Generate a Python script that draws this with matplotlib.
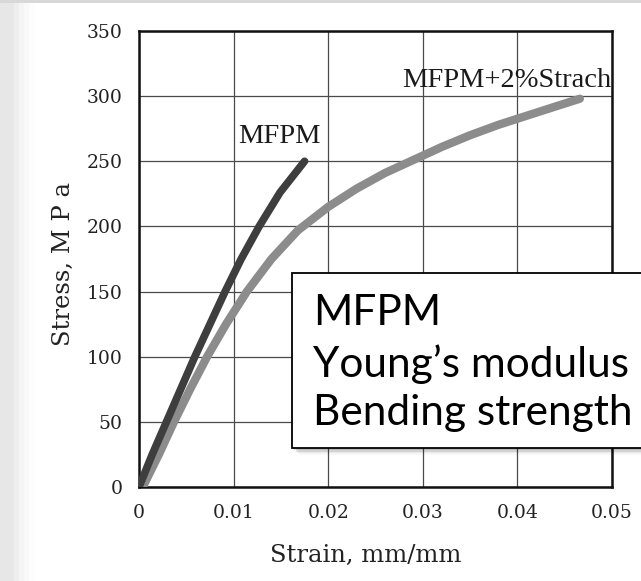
import matplotlib.pyplot as plt
from matplotlib.patches import Rectangle

# values
mfpm_strain = [0, 0.0014, 0.0029, 0.0044, 0.0059, 0.0075, 0.0091, 0.0108, 0.0127, 0.0149, 0.0175]
mfpm_stress = [0, 25, 50, 75, 100, 125, 150, 175, 200, 226, 250]

strach_strain = [0.0004, 0.0021, 0.0037, 0.0054, 0.0072, 0.0092, 0.0114, 0.0140, 0.0168, 0.0200,
                 0.0230, 0.0260, 0.0290, 0.0320, 0.0350, 0.0380, 0.0410, 0.0440, 0.0466]
strach_stress = [0, 25, 50, 75, 100, 125, 150, 175, 197, 215,
                 229, 241, 251, 261, 270, 278, 285, 292, 298]

xticks = [0, 0.01, 0.02, 0.03, 0.04, 0.05]
xticklabels = ['0', '0.01', '0.02', '0.03', '0.04', '0.05']
yticks = [0, 50, 100, 150, 200, 250, 300, 350]

box_lines = ['MFPM', 'Young\u2019s modulus', 'Bending strength']

W, H = 641, 581
serif = 'DejaVu Serif'
lab_serif = 'Liberation Serif'

fig = plt.figure(figsize=(W / 100, H / 100), dpi=100)
fx = lambda x: x / W
fy = lambda y: 1 - y / H

# scan border: grey strip on the left and on top
for i, a in enumerate([0.10, 0.08, 0.06, 0.04, 0.02]):
    fig.patches.append(Rectangle((0, 0), fx(14 + i * 5), 1, transform=fig.transFigure,
                                 color='#b0b0b0', alpha=a, lw=0))
fig.patches.append(Rectangle((0, fy(3)), 1, fx(3), transform=fig.transFigure,
                             color='#d8d8d8', lw=0))

ax = fig.add_axes([fx(139), fy(487), (612 - 139) / W, (487 - 31) / H])
ax.plot(strach_strain, strach_stress, color='#8c8c8c', lw=6, solid_capstyle='round',
        solid_joinstyle='round', zorder=3)
ax.plot(mfpm_strain, mfpm_stress, color='#3e3e3e', lw=5.5, solid_capstyle='round',
        solid_joinstyle='round', zorder=4)

ax.set_xlim(0, 0.05)
ax.set_ylim(0, 350)
ax.set_xticks(xticks)
ax.set_xticklabels(xticklabels)
ax.set_yticks(yticks)
ax.grid(True, color='#4a4a4a', lw=0.9)
ax.set_axisbelow(True)
ax.tick_params(length=0, labelsize=13.5, colors='#222222')
ax.tick_params(axis='x', pad=12)
ax.tick_params(axis='y', pad=12)
for lab in ax.get_xticklabels() + ax.get_yticklabels():
    lab.set_family(serif)
for s in ax.spines.values():
    s.set_linewidth(1.8)
    s.set_color('#111111')

ax.set_xlabel('Strain, mm/mm', family=serif, fontsize=17.5, color='#222222')
ax.set_ylabel('Stress, M P a', family=serif, fontsize=17.5, color='#222222')
ax.xaxis.set_label_coords(0.48, -0.124)
ax.yaxis.set_label_coords(-0.135, 0.49)

ax.text(0.0148, 264, 'MFPM', family=lab_serif, fontsize=20.5, ha='center', va='baseline',
        color='#1a1a1a')
ax.text(0.0499, 307, 'MFPM+2%Strach', family=lab_serif, fontsize=20.5, ha='right',
        va='baseline', color='#1a1a1a')

# overlay box with shadow
for i, a in enumerate([0.12, 0.09, 0.06, 0.03]):
    off = 2 + i * 1.5
    fig.patches.append(Rectangle((fx(292 + off), fy(448 + off)), fx(400), (448 - 273) / H,
                                 transform=fig.transFigure, color='black', alpha=a, lw=0))
fig.patches.append(Rectangle((fx(292), fy(448)), fx(400), (448 - 273) / H,
                             transform=fig.transFigure, facecolor='white',
                             edgecolor='black', lw=1.3))
for txt, base in zip(box_lines, [325, 377, 425]):
    fig.text(fx(313), fy(base), txt, family=['Lato', 'DejaVu Sans'], fontsize=30.5,
             va='baseline', ha='left', color='black')

fig.savefig('out.png', dpi=100)
